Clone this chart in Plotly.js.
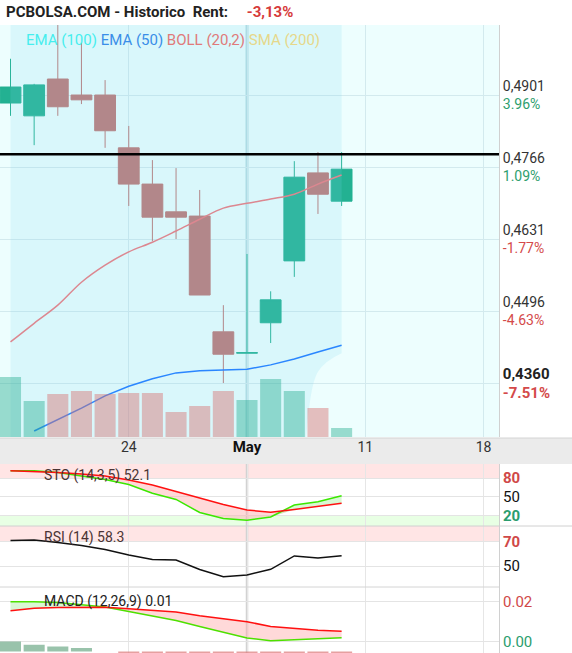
<!DOCTYPE html>
<html><head><meta charset="utf-8">
<script src="https://cdn.plot.ly/plotly-3.0.1.min.js"></script>
<style>html,body{margin:0;padding:0;background:#fff}#chart{width:572px;height:653px}</style>
</head><body><div id="chart"></div>
<script>
// ---- data (session index 0..14) ----
const openP  = [0.4886,0.4862,0.4931,0.4901,0.4901,0.4802,0.4734,0.4682,0.4674,0.4457,0.4417,0.4474,0.4590,0.4755,0.4702];
const highP  = [0.4969,0.4922,0.5038,0.4999,0.4929,0.4843,0.4779,0.4764,0.4723,0.4507,0.4603,0.4533,0.4777,0.4794,0.4794];
const lowP   = [0.4862,0.4807,0.4862,0.4884,0.4802,0.4693,0.4627,0.4631,0.4526,0.4361,0.4417,0.4436,0.4560,0.4678,0.4693];
const closeP = [0.4916,0.4920,0.4879,0.4892,0.4834,0.4734,0.4672,0.4672,0.4526,0.4415,0.4418,0.4517,0.4747,0.4715,0.4762];
const volume = [6.0,3.6,4.3,4.6,4.3,4.4,4.4,2.5,3.1,4.6,3.7,5.8,4.6,2.9,0.9];
const ema50  = [null,0.4271,0.4292,0.4314,0.4337,0.4355,0.4369,0.4380,0.4384,0.4385,0.4387,0.4395,0.4406,0.4419,0.4432];
const bollMid   = [0.4438,0.4473,0.4507,0.4550,0.4582,0.4607,0.4625,0.4646,0.4668,0.4689,0.4698,0.4706,0.4715,0.4734,0.4751];
const bollUpper = [0.5040,0.5071,0.5112,0.5154,0.5174,0.5204,0.5225,0.5252,0.5281,0.5303,0.5306,0.5302,0.5290,0.5086,0.5085];
const bollLower = [0.3836,0.3875,0.3902,0.3946,0.3990,0.4010,0.4025,0.4040,0.4055,0.4075,0.4090,0.4110,0.4140,0.4382,0.4417];
const refLevel = 0.4790;
const stoK = [91.5,91.5,88.7,83.2,77.6,69.7,55.8,46.1,25.5,16.0,13.2,18.4,37.4,42.6,52.1];
const stoD = [91.5,90.3,88.7,86.3,83.2,76.8,68.9,58.7,48.4,38.2,29.5,25.8,30.3,35.0,40.1];
const rsi  = [70.8,71.2,69.2,66.7,63.5,59.0,55.3,54.9,47.1,41.3,42.7,47.3,58.2,56.5,58.3];
const macd   = [0.0199,0.0199,0.0195,0.0185,0.0173,0.0150,0.0127,0.0105,0.0075,0.0045,0.0017,0.0004,0.0008,0.0012,0.0019];
const signal = [0.0154,0.0166,0.0170,0.0171,0.0171,0.0164,0.0156,0.0148,0.0129,0.0113,0.0099,0.0075,0.0065,0.0056,0.0051];
const hist   = [0.0046,0.0031,0.0023,0.0016,0.0000,-0.0010,-0.0021,-0.0030,-0.0051,-0.0067,-0.0082,-0.0077,-0.0062,-0.0046,-0.0031];
const tickIdx  = [5,10,15,20];
const tickText = ['24','May','11','18'];
const priceTicks = [0.4901,0.4766,0.4631,0.4496,0.4360];
const pctTicks   = [3.96,1.09,-1.77,-4.63,-7.51];
const rentText = '-3,13%';

// ---- geometry ----
const W=572,H=653;
const XD = 499/W;
const py = p => 1 - p/H;
const idx = openP.map((_,i)=>i);
const FONT = 'Roboto, "Open Sans", sans-serif';
const GREEN='#23b192', RED='#bf7876';
const fmt2 = v => (Math.round(v*100)/100).toFixed(2);

const priceText = priceTicks.map((v,i)=>{
  const last = i===priceTicks.length-1;
  const vs = v.toFixed(4).replace('.',',');
  const pc = pctTicks[i];
  const col = pc>=0 ? '#2e9e6e' : '#d44a4a';
  const ps = pc.toFixed(2)+'%';
  if (last) return `<span style="font-size:15px;color:#222"><b>${vs}</b></span><br><span style="font-size:15px;color:${col}"><b>${ps}</b></span>`;
  return `${vs}<br><span style="color:${col}">${ps}</span>`;
});

const stoMin = stoK.map((k,i)=>Math.min(k,stoD[i]));
const macdMin = macd.map((m,i)=>Math.min(m,signal[i]));
const volColors = closeP.map((c,i)=> c>=openP[i] ? 'rgba(34,172,140,0.42)' : 'rgba(214,112,112,0.45)');
const histColors = hist.map(h=> h>=0 ? 'rgba(110,170,135,0.7)' : 'rgba(220,120,120,0.7)');

const traces = [
  {type:'scatter',mode:'lines',x:idx,y:bollUpper,line:{width:0},xaxis:'x',yaxis:'y',hoverinfo:'skip'},
  {type:'scatter',mode:'lines',x:idx,y:bollLower,line:{width:0,shape:'spline'},fill:'tonexty',fillcolor:'rgba(120,215,236,0.17)',xaxis:'x',yaxis:'y',hoverinfo:'skip'},
  {type:'scatter',mode:'lines',x:idx,y:ema50,line:{color:'#2a86ff',width:1.5},xaxis:'x',yaxis:'y'},
  {type:'scatter',mode:'lines',x:idx,y:bollMid,line:{color:'#dc8790',width:1.5,shape:'spline'},xaxis:'x',yaxis:'y'},
  {type:'candlestick',x:idx,open:openP,high:highP,low:lowP,close:closeP,xaxis:'x',yaxis:'y',
   increasing:{line:{color:GREEN,width:1},fillcolor:GREEN},
   decreasing:{line:{color:RED,width:1},fillcolor:RED},whiskerwidth:0},
  {type:'bar',x:idx,y:volume,marker:{color:volColors,line:{width:0}},xaxis:'x',yaxis:'y2'},
  // STO
  {type:'scatter',mode:'lines',x:idx,y:stoD,line:{width:0},xaxis:'x2',yaxis:'y3',hoverinfo:'skip'},
  {type:'scatter',mode:'lines',x:idx,y:stoMin,line:{width:0},fill:'tonexty',fillcolor:'rgba(255,170,170,0.45)',xaxis:'x2',yaxis:'y3',hoverinfo:'skip'},
  {type:'scatter',mode:'lines',x:idx,y:stoK,line:{width:0},xaxis:'x2',yaxis:'y3',hoverinfo:'skip'},
  {type:'scatter',mode:'lines',x:idx,y:stoMin,line:{width:0},fill:'tonexty',fillcolor:'rgba(170,240,160,0.45)',xaxis:'x2',yaxis:'y3',hoverinfo:'skip'},
  {type:'scatter',mode:'lines',x:idx,y:stoK,line:{color:'#3be800',width:1.5},xaxis:'x2',yaxis:'y3'},
  {type:'scatter',mode:'lines',x:idx,y:stoD,line:{color:'#ff1010',width:1.5},xaxis:'x2',yaxis:'y3'},
  // RSI
  {type:'scatter',mode:'lines',x:idx,y:rsi,line:{color:'#111',width:1.5},xaxis:'x3',yaxis:'y4'},
  // MACD
  {type:'scatter',mode:'lines',x:idx,y:signal,line:{width:0},xaxis:'x4',yaxis:'y5',hoverinfo:'skip'},
  {type:'scatter',mode:'lines',x:idx,y:macdMin,line:{width:0},fill:'tonexty',fillcolor:'rgba(255,170,170,0.45)',xaxis:'x4',yaxis:'y5',hoverinfo:'skip'},
  {type:'scatter',mode:'lines',x:idx,y:macd,line:{width:0},xaxis:'x4',yaxis:'y5',hoverinfo:'skip'},
  {type:'scatter',mode:'lines',x:idx,y:macdMin,line:{width:0},fill:'tonexty',fillcolor:'rgba(170,240,160,0.45)',xaxis:'x4',yaxis:'y5',hoverinfo:'skip'},
  {type:'scatter',mode:'lines',x:idx,y:macd,line:{color:'#4ee000',width:1.5},xaxis:'x4',yaxis:'y5'},
  {type:'scatter',mode:'lines',x:idx,y:signal,line:{color:'#ff1010',width:1.5},xaxis:'x4',yaxis:'y5'},
  {type:'bar',x:idx,y:hist,marker:{color:histColors,line:{width:0}},xaxis:'x4',yaxis:'y6'}
];

const xr = [-0.444, 20.655];
const lowerX = a => ({domain:[0,XD],range:xr,matches:'x',anchor:a,tickvals:tickIdx,showticklabels:false,
  showgrid:true,gridcolor:'#e6e6e6',zeroline:false,ticks:'',fixedrange:true});
const lowerY = (dom,rng,vals,txt)=>({domain:dom,range:rng,side:'right',tickvals:vals,ticktext:txt,
  showgrid:true,gridcolor:'#e4e4e4',zeroline:false,ticks:'',showline:true,linecolor:'#d0d0d0',
  tickfont:{family:FONT,size:15,color:'#111'},fixedrange:true});

const mainDom = [py(437), py(25)];
const layout = {
  width:W,height:H,autosize:false,margin:{l:0,r:0,t:0,b:0},
  paper_bgcolor:'#ffffff',plot_bgcolor:'#ffffff',showlegend:false,hovermode:false,
  bargap:0.11,boxgap:0.12,boxgroupgap:0,
  xaxis:{domain:[0,XD],range:xr,anchor:'y',tickvals:tickIdx,
    ticktext:tickText.map(t=> t==='May' ? '<b><span style="font-size:15px;color:#111">May</span></b>' : t),
    showgrid:true,gridcolor:'#d3eaee',zeroline:false,ticks:'',showline:false,
    tickfont:{family:FONT,size:14,color:'#333'},rangeslider:{visible:false},fixedrange:true},
  yaxis:{domain:mainDom,range:[0.42598,0.50323],side:'right',tickvals:priceTicks,ticktext:priceText,
    showgrid:true,gridcolor:'#d3eaee',zeroline:false,ticks:'',showline:true,linecolor:'#d0d0d0',
    tickfont:{family:FONT,size:14,color:'#333'},fixedrange:true},
  yaxis2:{overlaying:'y',anchor:'x',range:[0,41.2],visible:false,fixedrange:true},
  xaxis2:lowerX('y3'), xaxis3:lowerX('y4'), xaxis4:lowerX('y5'),
  yaxis3:lowerY([py(526),py(464)],[4.2,102.1],[80,50,20],
    ['<b><span style="color:#d04848">80</span></b>','50','<b><span style="color:#2a9d6e">20</span></b>']),
  yaxis4:lowerY([py(587),py(526)],[32.86,82.65],[70,50],
    ['<b><span style="color:#d04848">70</span></b>','50']),
  yaxis5:lowerY([0,py(587)],[-0.00575,0.02725],[0.02,0],
    ['<span style="color:#d04848">0.02</span>','<span style="color:#2a9d6e">0.00</span>']),
  yaxis6:{overlaying:'y5',anchor:'x4',side:'right',range:[-0.00069,0.02967],tickvals:[0],ticktext:['0'],
    showgrid:false,zeroline:false,ticks:'',tickfont:{family:FONT,size:14,color:'#111'},fixedrange:true},
  shapes:[
    {type:'rect',layer:'below',xref:'x domain',yref:'y domain',x0:0,x1:1,y0:0,y1:1,fillcolor:'#edfefe',line:{width:0}},
    {type:'line',layer:'below',xref:'x',yref:'y domain',x0:tickIdx[1],x1:tickIdx[1],y0:0,y1:1,line:{color:'#b9dde3',width:3}},
    {type:'line',layer:'above',xref:'paper',yref:'y',x0:0,x1:XD,y0:refLevel,y1:refLevel,line:{color:'#000',width:2.5}},
    {type:'rect',layer:'below',xref:'paper',yref:'paper',x0:0,x1:1,y0:py(464),y1:py(438),fillcolor:'#ebebeb',line:{width:0}},
    {type:'line',layer:'above',xref:'paper',yref:'paper',x0:0,x1:1,y0:py(438),y1:py(438),line:{color:'#d4d4d4',width:1}},
    {type:'rect',layer:'below',xref:'paper',yref:'y3',x0:0,x1:XD,y0:80,y1:102.1,fillcolor:'#ffe5e5',line:{width:0}},
    {type:'rect',layer:'below',xref:'paper',yref:'y3',x0:0,x1:XD,y0:4.2,y1:20,fillcolor:'#e8ffe4',line:{width:0}},
    {type:'rect',layer:'below',xref:'paper',yref:'y4',x0:0,x1:XD,y0:70,y1:82.65,fillcolor:'#ffe5e5',line:{width:0}},
    {type:'line',layer:'below',xref:'x2',yref:'paper',x0:tickIdx[1],x1:tickIdx[1],y0:0,y1:py(464),line:{color:'#d2d2d2',width:2.5}},
    {type:'line',layer:'above',xref:'paper',yref:'paper',x0:0,x1:1,y0:py(526),y1:py(526),line:{color:'#d0d0d0',width:1}},
    {type:'line',layer:'above',xref:'paper',yref:'paper',x0:0,x1:XD,y0:py(587),y1:py(587),line:{color:'#d4d4d4',width:1}}
  ],
  annotations:[
    {xref:'paper',yref:'paper',x:4/W,y:py(12),xanchor:'left',yanchor:'middle',showarrow:false,
     font:{family:FONT,size:15,color:'#222'},
     text:'<b>PCBOLSA.COM - Historico\u00a0 Rent:\u00a0\u00a0\u00a0\u00a0 <span style="color:#d63a3a">'+rentText+'</span></b>'},
    {xref:'paper',yref:'paper',x:24/W,y:py(40),xanchor:'left',yanchor:'middle',showarrow:false,
     font:{family:FONT,size:15},
     text:'<span style="color:#46eeee">EMA (100)</span> <span style="color:#3a8ee8">EMA (50)</span> <span style="color:#e07a7a">BOLL (20,2)</span> <span style="color:#e6d88a">SMA (200)</span>'},
    {xref:'paper',yref:'paper',x:42/W,y:py(475),xanchor:'left',yanchor:'middle',showarrow:false,
     font:{family:FONT,size:14,color:'#4a3434'},text:'STO (14,3,5) '+stoK[stoK.length-1].toFixed(1)},
    {xref:'paper',yref:'paper',x:42/W,y:py(537),xanchor:'left',yanchor:'middle',showarrow:false,
     font:{family:FONT,size:14,color:'#4a3434'},text:'RSI (14) '+rsi[rsi.length-1].toFixed(1)},
    {xref:'paper',yref:'paper',x:42/W,y:py(601),xanchor:'left',yanchor:'middle',showarrow:false,
     font:{family:FONT,size:14,color:'#222'},text:'MACD (12,26,9) '+fmt2(signal[signal.length-1])}
  ]
};
Plotly.newPlot('chart',traces,layout,{staticPlot:true,displayModeBar:false});
</script></body></html>
